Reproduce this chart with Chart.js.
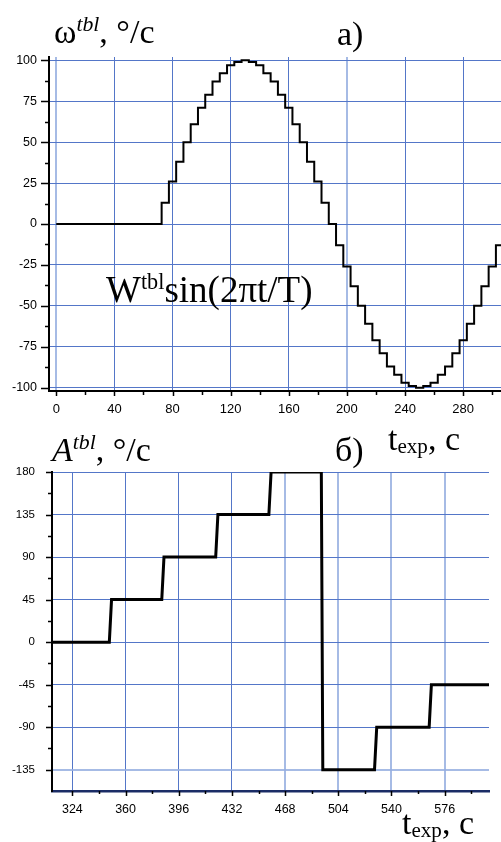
<!DOCTYPE html>
<html><head><meta charset="utf-8">
<script src="https://cdn.jsdelivr.net/npm/chart.js@4"></script>
<style>
html,body{margin:0;padding:0;background:#fff;}
body{width:501px;height:842px;position:relative;overflow:hidden;}
canvas{position:absolute;left:0;}
.lbl{position:absolute;font-family:"Liberation Serif","Times New Roman",serif;font-size:34px;line-height:1;white-space:nowrap;color:#000;}
.sup{font-size:0.64em;font-style:italic;position:relative;top:-0.55em;}
.supn{font-size:0.6em;position:relative;top:-0.6em;}
.sub{font-size:0.62em;position:relative;top:0.12em;}
</style></head><body>
<canvas id="c1" width="501" height="420" style="top:0"></canvas>
<canvas id="c2" width="501" height="422" style="top:420px"></canvas>
<div class="lbl" style="left:54px;top:15px">ω<span class="sup">tbl</span>, °/с</div>
<div class="lbl" style="left:337px;top:17px">а)</div>
<div class="lbl" style="left:106px;top:271px;font-size:37px">W<span class="supn">tbl</span>sin(2πt/T)</div>
<div class="lbl" style="left:388px;top:422px">t<span class="sub">exp</span>, с</div>
<div class="lbl" style="left:52px;top:433px"><i>A</i><span class="sup">tbl</span>, °/с</div>
<div class="lbl" style="left:335px;top:433px">б)</div>
<div class="lbl" style="left:402px;top:806px">t<span class="sub">exp</span>, с</div>
<script>
// ---- Chart (a): table angular velocity, stepped sine ----
const topStepTimes = [0, 72.5, 77.5, 82.5, 87.5, 92.5, 97.5, 102.5, 107.5, 112.5, 117.5, 122.5, 127.5,
  132.5, 137.5, 142.5, 147.5, 152.5, 157.5, 162.5, 167.5, 172.5, 177.5, 182.5, 187.5,
  192.5, 197.5, 202.5, 207.5, 212.5, 217.5, 222.5, 227.5, 232.5, 237.5, 242.5, 247.5,
  252.5, 257.5, 262.5, 267.5, 272.5, 277.5, 282.5, 287.5, 292.5, 297.5, 302.5, 306];
const topStepValues = [0, 13, 26, 38, 50, 61, 71, 79, 87, 92, 97, 99, 100,
  99, 97, 92, 87, 79, 71, 61, 50, 38, 26, 13, 0,
  -13, -26, -38, -50, -61, -71, -79, -87, -92, -97, -99, -100,
  -99, -97, -92, -87, -79, -71, -61, -50, -38, -26, -13, -13];
const topXTicks = [0, 40, 80, 120, 160, 200, 240, 280];
const topXMinor = [20, 60, 100, 140, 180, 220, 260, 300];
const topYTicks = [-100, -75, -50, -25, 0, 25, 50, 75, 100];
const topYMinor = [-87.5, -62.5, -37.5, -12.5, 12.5, 37.5, 62.5, 87.5];

// ---- Chart (б): table angle, stepped ----
const botTimes = [310, 349, 350.5, 384.5, 386, 421, 422.5, 457, 458.5, 492.5, 493.5, 528.5, 530, 565.5, 567, 606];
const botValues = [0, 0, 45, 45, 90, 90, 135, 135, 180, 180, -135, -135, -90, -90, -45, -45];
const botXTicks = [324, 360, 396, 432, 468, 504, 540, 576];
const botXMinor = [342, 378, 414, 450, 486, 522, 558, 594];
const botYTicks = [-135, -90, -45, 0, 45, 90, 135, 180];
const botYMinor = [-112.5, -67.5, -22.5, 22.5, 67.5, 112.5, 157.5];

const GRID = 'rgb(84,118,200)';
const GRID_LIGHT = 'rgba(150,175,225,0.85)';

const tickMarks = {
  id: 'tickMarks',
  afterDraw(chart, args, o) {
    const ctx = chart.ctx, xs = chart.scales.x, ys = chart.scales.y, a = chart.chartArea;
    ctx.save();
    ctx.strokeStyle = '#000';
    ctx.lineWidth = 1.5;
    ctx.beginPath();
    const yl = (vals, len) => vals.forEach(v => { const p = Math.round(ys.getPixelForValue(v)) + 0.5; ctx.moveTo(a.left, p); ctx.lineTo(a.left - len, p); });
    const xl = (vals, len) => vals.forEach(v => { const p = Math.round(xs.getPixelForValue(v)) + 0.5; ctx.moveTo(p, a.bottom); ctx.lineTo(p, a.bottom + len); });
    yl(o.yMajor, o.yMajorLen); yl(o.yMinor, o.yMinorLen);
    xl(o.xMajor, o.xMajorLen); xl(o.xMinor, o.xMinorLen);
    ctx.stroke();
    ctx.restore();
  }
};

function setTicks(arr) { return s => { s.ticks = arr.map(v => ({ value: v })); }; }

const common = { responsive: false, animation: false, devicePixelRatio: 1, events: [] };

new Chart(document.getElementById('c1'), {
  type: 'line',
  data: { datasets: [{
    data: topStepTimes.map((t, i) => ({ x: t, y: topStepValues[i] })),
    stepped: true, borderColor: '#000', borderWidth: 2, pointRadius: 0, fill: false,
    borderJoinStyle: 'miter', borderCapStyle: 'butt'
  }] },
  options: Object.assign({}, common, {
    layout: { padding: { top: 57, right: 0, left: 0, bottom: 0 } },
    plugins: { legend: { display: false }, tooltip: { enabled: false },
      tickMarks: { yMajor: topYTicks, yMinor: topYMinor, xMajor: topXTicks, xMinor: topXMinor,
        yMajorLen: 8, yMinorLen: 4, xMajorLen: 5, xMinorLen: 4 } },
    scales: {
      x: { type: 'linear', min: -5, max: 306,
        afterBuildTicks: setTicks(topXTicks), afterFit: s => { s.height = 29; },
        grid: { drawTicks: false,
          color: c => (c.tick && (c.tick.value === 0 || c.tick.value === 200)) ? GRID_LIGHT : GRID,
          lineWidth: c => (c.tick && (c.tick.value === 0 || c.tick.value === 200)) ? 2 : 1 },
        border: { display: true, color: '#000', width: 2 },
        ticks: { padding: 11, color: '#000', font: { family: 'Liberation Sans', size: 13 }, maxRotation: 0, autoSkip: false }
      },
      y: { type: 'linear', min: -102, max: 102,
        afterBuildTicks: setTicks(topYTicks), afterFit: s => { s.width = 49; },
        grid: { drawTicks: false, color: GRID, lineWidth: 1 },
        border: { display: true, color: '#000', width: 2 },
        ticks: { padding: 12, color: '#000', font: { family: 'Liberation Sans', size: 12.5 }, autoSkip: false }
      }
    }
  }),
  plugins: [tickMarks]
});

const lightBotX = [468, 504, 540, 576];
new Chart(document.getElementById('c2'), {
  type: 'line',
  data: { datasets: [{
    data: botTimes.map((t, i) => ({ x: t, y: botValues[i] })),
    borderColor: '#000', borderWidth: 3, pointRadius: 0, fill: false, tension: 0,
    borderJoinStyle: 'miter', borderCapStyle: 'butt'
  }] },
  options: Object.assign({}, common, {
    layout: { padding: { top: 52, right: 12, left: 0, bottom: 0 } },
    plugins: { legend: { display: false }, tooltip: { enabled: false },
      tickMarks: { yMajor: botYTicks, yMinor: botYMinor, xMajor: botXTicks, xMinor: botXMinor,
        yMajorLen: 6, yMinorLen: 4, xMajorLen: 5, xMinorLen: 3 } },
    scales: {
      x: { type: 'linear', min: 310.2, max: 606,
        afterBuildTicks: setTicks(botXTicks), afterFit: s => { s.height = 51; },
        grid: { drawTicks: false,
          color: c => (c.tick && lightBotX.includes(c.tick.value)) ? GRID_LIGHT : GRID,
          lineWidth: c => (c.tick && lightBotX.includes(c.tick.value)) ? 2 : 1 },
        border: { display: true, color: '#1b2c66', width: 2.5 },
        ticks: { padding: 11, color: '#000', font: { family: 'Liberation Sans', size: 12.5 }, maxRotation: 0, autoSkip: false }
      },
      y: { type: 'linear', min: -157.5, max: 180,
        afterBuildTicks: setTicks(botYTicks), afterFit: s => { s.width = 52; },
        grid: { drawTicks: false,
          color: c => (c.tick && c.tick.value === -135) ? GRID_LIGHT : GRID,
          lineWidth: c => (c.tick && c.tick.value === -135) ? 2 : 1 },
        border: { display: true, color: '#000', width: 2 },
        ticks: { padding: 17, color: '#000', font: { family: 'Liberation Sans', size: 11.5 }, autoSkip: false }
      }
    }
  }),
  plugins: [tickMarks]
});
</script>
</body></html>
